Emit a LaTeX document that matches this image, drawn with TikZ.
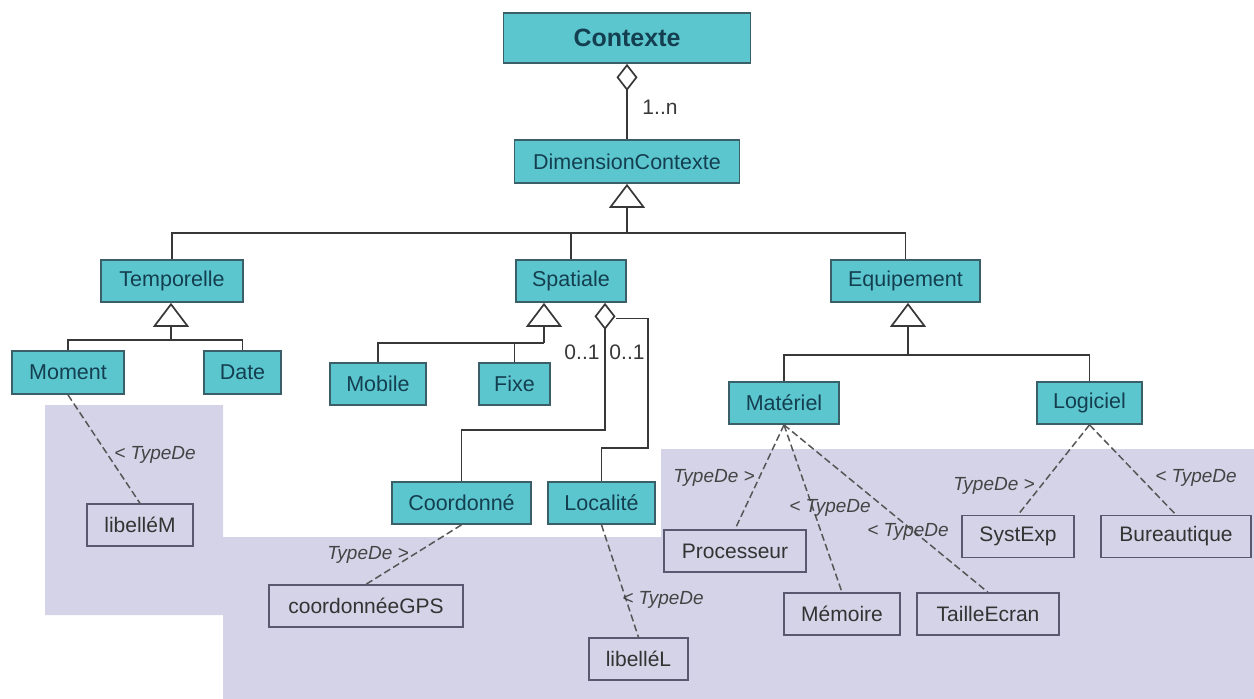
\documentclass[tikz,border=0pt]{standalone}
\usepackage{fontspec}
\setmainfont{Liberation Sans}
\usetikzlibrary{arrows.meta,calc}
\definecolor{cy}{HTML}{5CC6CF}
\definecolor{cyborder}{HTML}{3A5F68}
\definecolor{cytext}{HTML}{143F50}
\definecolor{lav}{HTML}{D5D3E8}
\definecolor{valborder}{HTML}{5A5870}
\definecolor{valtext}{HTML}{333333}
\definecolor{lnc}{HTML}{383838}
\definecolor{lblc}{HTML}{444444}
\tikzset{
  cls/.style={draw=cyborder, fill=cy, line width=1.7pt, text=cytext, inner sep=0pt,
    minimum height=42pt, font=\fontsize{21.5}{24}\selectfont},
  valbox/.style={draw=valborder, line width=1.4pt, text=valtext, inner sep=0pt,
    minimum height=42pt, font=\fontsize{21}{24}\selectfont},
  conn/.style={draw=lnc, line width=1.8pt},
  gen/.style={conn, -{Triangle[open, length=24pt, width=36pt, line width=1.7pt]}},
  agg/.style={conn, -{Diamond[open, length=27pt, width=21pt, line width=1.7pt]}},
  dep/.style={draw=lnc!85, line width=1.5pt, dash pattern=on 7pt off 3.5pt},
  lbl/.style={text=lblc, inner sep=0pt, font=\fontsize{19}{22}\selectfont\itshape},
  mult/.style={text=lnc, inner sep=0pt, font=\fontsize{21}{23}\selectfont}
}
\begin{document}
\begin{tikzpicture}[x=1pt,y=-1pt]
\useasboundingbox (0,0) rectangle (1254,699);
% lavender background region
\fill[lav] (45,405) -- (223,405) -- (223,537) -- (661,537) -- (661,449) -- (1254,449)
  -- (1254,699) -- (223,699) -- (223,615) -- (45,615) -- cycle;

% classes
\node[cls, minimum width=247pt, minimum height=50pt, font=\fontsize{25}{28}\selectfont\bfseries] (ctx) at (627,38) {Contexte};
\node[cls, minimum width=225pt, minimum height=43pt] (dim) at (627,161.5) {DimensionContexte};
\node[cls, minimum width=142pt] (temp) at (172,281) {Temporelle};
\node[cls, minimum width=110pt] (spat) at (571,281) {Spatiale};
\node[cls, minimum width=149pt] (equip) at (905.5,281) {Equipement};
\node[cls, minimum width=112pt, minimum height=43pt] (moment) at (68,372.5) {Moment};
\node[cls, minimum width=77pt, minimum height=43pt] (date) at (242.5,372.5) {Date};
\node[cls, minimum width=96pt] (mobile) at (378,384) {Mobile};
\node[cls, minimum width=71pt] (fixe) at (514.5,384) {Fixe};
\node[cls, minimum width=139pt] (coord) at (461.5,503) {Coordonné};
\node[cls, minimum width=107pt] (local) at (601.5,503) {Localité};
\node[cls, minimum width=110pt] (mat) at (784,403) {Matériel};
\node[cls, minimum width=105pt] (logi) at (1089.5,403) {Logiciel};

% value boxes
\node[valbox, minimum width=106pt] (libM) at (140,525) {libelléM};
\node[valbox, minimum width=194pt] (gps) at (366,606) {coordonnéeGPS};
\node[valbox, minimum width=99pt] (libL) at (638.5,659) {libelléL};
\node[valbox, minimum width=142pt] (proc) at (735,551) {Processeur};
\node[valbox, minimum width=116pt] (mem) at (842,614) {Mémoire};
\node[valbox, minimum width=142pt] (taille) at (988,614) {TailleEcran};
\node[valbox, minimum width=112pt] (syst) at (1018,536.5) {SystExp};
\node[valbox, minimum width=150pt] (bur) at (1176,536.5) {Bureautique};

% Contexte aggregation
\draw[agg] (dim.north) -- (ctx.south);
\node[mult] (m1) at (660,107) {1..n};

% generalisation DimensionContexte
\coordinate (j1) at (627,233);
\draw[gen] (j1) -- (dim.south);
\draw[conn] (temp.north) |- (j1);
\draw[conn] (equip.north) |- (j1);
\draw[conn] (spat.north) -- (spat.north |- j1);

% Temporelle
\coordinate (j2) at (171,340);
\draw[gen] (j2) -- (j2 |- temp.south);
\draw[conn] (moment.north) |- (j2);
\draw[conn] (date.north) |- (j2);

% Spatiale generalisation
\coordinate (j3) at (544,343);
\draw[gen] (j3) -- (j3 |- spat.south);
\draw[conn] (mobile.north) |- (j3);
\draw[conn] (fixe.north) -- (fixe.north |- j3);

% Spatiale aggregations
\coordinate (k1) at (605,430);
\draw[agg] (coord.north) |- (k1) -- (k1 |- spat.south);
\coordinate (k2) at (648,448);
\coordinate (k4) at (616,318.5);
\draw[conn] (local.north) |- (k2) |- (k4);
\node[mult] (m2) at (582,352) {0..1};
\node[mult] (m3) at (627,352) {0..1};

% Equipement
\coordinate (j4) at (908,355);
\draw[gen] (j4) -- (j4 |- equip.south);
\draw[conn] (mat.north) |- (j4);
\draw[conn] (logi.north) |- (j4);

% dependencies
\draw[dep] (moment.south) -- (libM.north);
\draw[dep] (coord.south) -- (gps.north);
\draw[dep] (local.south) -- (libL.north);
\draw[dep] (mat.south) -- (proc.north);
\draw[dep] (mat.south) -- (mem.north);
\draw[dep] (mat.south) -- (taille.north);
\draw[dep] (logi.south) -- (syst.north);
\draw[dep] (logi.south) -- (bur.north);

% labels
\node[lbl] (t1) at (155,455) {< TypeDe};
\node[lbl] (t2) at (368,555) {TypeDe >};
\node[lbl] (t3) at (663,600) {< TypeDe};
\node[lbl] (t4) at (714,478) {TypeDe >};
\node[lbl] (t5) at (830,508) {< TypeDe};
\node[lbl] (t6) at (908,532) {< TypeDe};
\node[lbl] (t7) at (994,486) {TypeDe >};
\node[lbl] (t8) at (1196,478) {< TypeDe};
\end{tikzpicture}
\end{document}
